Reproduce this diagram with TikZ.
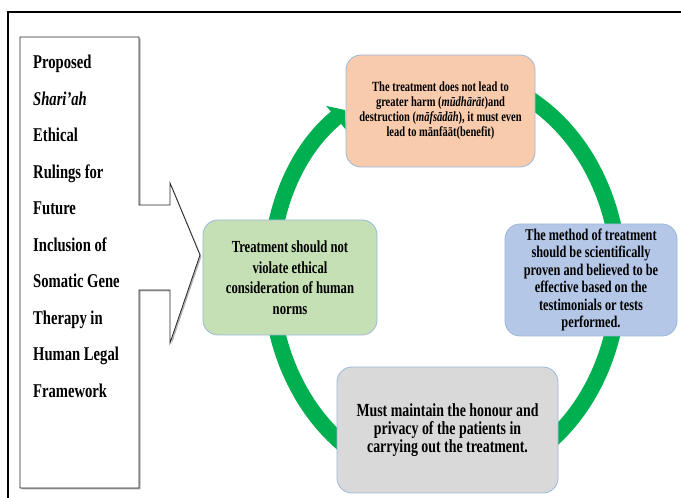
\documentclass[tikz,border=0pt]{standalone}
\usepackage{fontspec}
\newfontfamily\rulefont[FakeStretch=0.75]{Liberation Serif}
\usetikzlibrary{arrows.meta,shadows}
\definecolor{ringgreen}{HTML}{00B050}
\definecolor{boxedge}{HTML}{9BB7DC}
\definecolor{harmfill}{HTML}{F8CBAD}
\definecolor{proofill}{HTML}{B4C7E7}
\definecolor{normfill}{HTML}{C5E0B4}
\definecolor{privfill}{HTML}{D9D9D9}
\begin{document}
\begin{tikzpicture}[x=1pt,y=1pt,
	rule/.style={draw=boxedge,line width=0.8pt,rounded corners=15pt,align=center,inner sep=0pt}]
	\useasboundingbox (0,0) rectangle (681,498);
	\draw[line width=1.5pt] (681,486) -- (8,486) -- (8,0);
	% callout box with the arrow pointing at the cycle
	\draw[fill=white,draw=black!85,line width=0.8pt,drop shadow={shadow xshift=1.5pt,shadow yshift=-1.5pt,fill=black!60}] (20,461) -- (139,461) -- (139,293) -- (170,293) -- (170,315) -- (200,243) -- (170,155) -- (170,208) -- (139,208) -- (139,10) -- (20,10) -- cycle;
	\node[anchor=north west,align=left,inner sep=0pt,font=\rulefont\bfseries\fontsize{19.5}{36.5}\selectfont] (title) at (33,443) {Proposed\\ \textit{Shari’ah}\\ Ethical\\ Rulings for\\ Future\\ Inclusion of\\ Somatic Gene\\ Therapy in\\ Human Legal\\ Framework};
	% green ring, one arrow head at the top left
	\draw[ringgreen,line width=16pt,-{Triangle[length=12pt,width=30pt]}] (445,220) ++(480:174 and 205) arc[start angle=480,end angle=125,x radius=174,y radius=205];
	\node[rule,fill=harmfill,minimum width=189pt,minimum height=112pt,font=\rulefont\bfseries\fontsize{14}{15}\selectfont] (harm) at (440.5,387) {The treatment does not lead to\\ greater harm (\textit{mūdhārāt})and\\ destruction (\textit{māfsādāh}), it must even\\ lead to mānfāāt(benefit)};
	\node[rule,fill=proofill,minimum width=172pt,minimum height=112pt,font=\rulefont\bfseries\fontsize{16.4}{17.5}\selectfont] (proof) at (591,218) {The method of treatment\\ should be scientifically\\ proven and believed to be\\ effective based on the\\ testimonials or tests\\ performed.};
	\node[rule,fill=privfill,minimum width=221pt,minimum height=126pt,font=\rulefont\bfseries\fontsize{18.5}{18}\selectfont] (privacy) at (447.5,68) {Must maintain the honour and\\ privacy of the patients in\\ carrying out the treatment.};
	\node[rule,fill=normfill,minimum width=174pt,minimum height=115pt,font=\rulefont\bfseries\fontsize{16.9}{20.5}\selectfont] (norms) at (290,220.5) {Treatment should not\\ violate ethical\\ consideration of human\\ norms};
\end{tikzpicture}
\end{document}
